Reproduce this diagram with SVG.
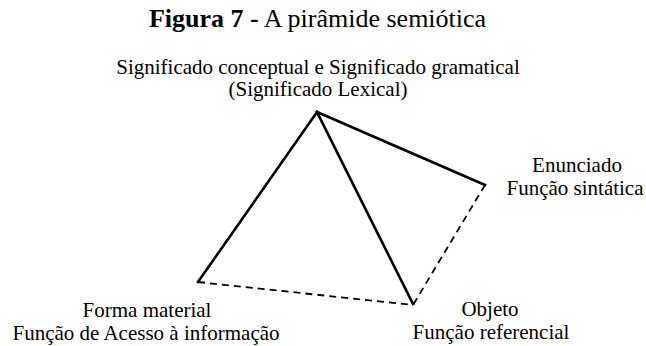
<svg xmlns="http://www.w3.org/2000/svg" width="646" height="346" viewBox="0 0 646 346">
<style>
text{font-family:"Liberation Serif","Times New Roman",serif;font-size:21px;fill:#000;text-anchor:middle}
.t{font-size:26px}
.b{font-weight:bold}
.s{stroke:#000;stroke-width:2.6;fill:none;stroke-linecap:square}
.d{stroke:#000;stroke-width:1.8;fill:none;stroke-dasharray:7,5}
</style>
<rect width="646" height="346" fill="#fff"/>
<text class="t" x="317.5" y="27"><tspan class="b">Figura 7 -</tspan> A pirâmide semiótica</text>
<g id="apex"><text x="318" y="74">Significado conceptual e Significado gramatical</text><text x="318" y="96">(Significado Lexical)</text></g>
<g id="enunciado"><text x="577" y="172">Enunciado</text><text x="575" y="195">Função sintática</text></g>
<g id="forma"><text x="147" y="317">Forma material</text><text x="146" y="340">Função de Acesso à informação</text></g>
<g id="objeto"><text x="490" y="316">Objeto</text><text x="491" y="339">Função referencial</text></g>
<g id="connectors">
<line class="s" x1="317" y1="112" x2="198" y2="282"/>
<line class="s" x1="317" y1="112" x2="413" y2="304"/>
<line class="s" x1="317" y1="112" x2="485" y2="185"/>
<line class="d" x1="198" y1="282" x2="413" y2="305"/>
<line class="d" x1="485" y1="185" x2="413" y2="305"/>
</g>
</svg>
